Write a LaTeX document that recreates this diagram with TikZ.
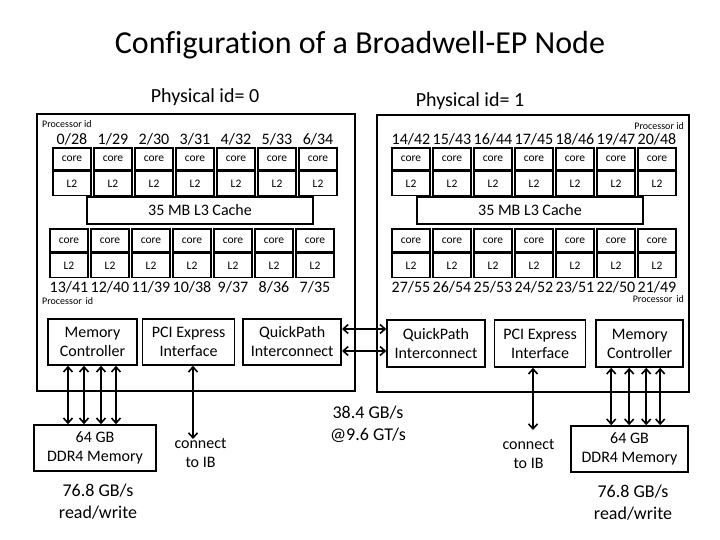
\documentclass[tikz,border=0pt]{standalone}
\usepackage{fontspec}
\setmainfont{Carlito}[Ligatures=NoCommon]
\usetikzlibrary{arrows.meta,positioning}

\newcommand{\sz}[2]{\fontsize{#1}{#2}\selectfont}

\begin{document}
\begin{tikzpicture}[x=1pt,y=-1pt,
	box/.style={rectangle,draw,line width=1.6pt,align=center,inner sep=0pt,font=\sz{16}{19}},
	socket/.style={rectangle,draw,line width=1.8pt,inner sep=0pt},
	corebox/.style={rectangle,draw,line width=1.4pt,minimum width=38pt,inner sep=0pt,font=\sz{11.5}{13}},
	cpuid/.style={inner sep=0pt,font=\sz{16}{19}},
	procid/.style={inner sep=0pt,font=\sz{10}{12}},
	note/.style={align=center,inner sep=0pt,font=\sz{18}{22}},
	links/.style={{Straight Barb[length=5pt,width=9pt]}-{Straight Barb[length=5pt,width=9pt]}, line width=1.6pt}]

	\useasboundingbox (0,0) rectangle (720,540);

	\node[font=\sz{32}{38}] (title) at (360,45) {Configuration of a Broadwell-EP Node};
	\node[font=\sz{20}{24}] (phys0) at (205,97) {Physical id= 0};
	\node[font=\sz{20}{24}] (phys1) at (470,101) {Physical id= 1};

	% sockets
	\node[socket, minimum width=318, minimum height=277] (sock0) at (196,252.5) {};
	\node[socket, minimum width=312, minimum height=277] (sock1) at (533,253.5) {};

	\node[procid, anchor=west] (pid0-top) at (42,124) {Processor id};
	\node[procid, anchor=west] (pid0-bot) at (42,301) {Processor\, id};
	\node[procid, anchor=east] (pid1-top) at (684,126) {Processor id};
	\node[procid, anchor=east] (pid1-bot) at (684,299) {Processor\, id};

	% cores of socket 0
	\foreach \a/\b [count=\i from 0] in {0/28,1/29,2/30,3/31,4/32,5/33,6/34} {
		\node[corebox, minimum height=22] (core0-top\i) at (72+41*\i,159) {core};
		\node[corebox, minimum height=24, below=0pt of core0-top\i] (l2-0-top\i) {L2};
		\node[cpuid] (id0-top\i) at (72+41*\i,139) {\a/\b};
	}
	\foreach \a/\b [count=\i from 0] in {13/41,12/40,11/39,10/38,9/37,8/36,7/35} {
		\node[corebox, minimum height=23] (core0-bot\i) at (69+41*\i,240.5) {core};
		\node[corebox, minimum height=24, below=0pt of core0-bot\i] (l2-0-bot\i) {L2};
		\node[cpuid] (id0-bot\i) at (69+41*\i,287) {\a/\b};
	}
	\node[box, minimum width=226, minimum height=27] (l3-0) at (200,210.5) {35 MB L3 Cache};

	% cores of socket 1
	\foreach \a/\b [count=\i from 0] in {14/42,15/43,16/44,17/45,18/46,19/47,20/48} {
		\node[corebox, minimum height=22] (core1-top\i) at (411+41*\i,159) {core};
		\node[corebox, minimum height=24, below=0pt of core1-top\i] (l2-1-top\i) {L2};
		\node[cpuid] (id1-top\i) at (411+41*\i,139) {\a/\b};
	}
	\foreach \a/\b [count=\i from 0] in {27/55,26/54,25/53,24/52,23/51,22/50,21/49} {
		\node[corebox, minimum height=23] (core1-bot\i) at (411+41*\i,240.5) {core};
		\node[corebox, minimum height=24, below=0pt of core1-bot\i] (l2-1-bot\i) {L2};
		\node[cpuid] (id1-bot\i) at (411+41*\i,287) {\a/\b};
	}
	\node[box, minimum width=226, minimum height=27] (l3-1) at (530,210.5) {35 MB L3 Cache};

	% interfaces
	\node[box, minimum width=89, minimum height=46] (mc0) at (92.5,342) {Memory\\Controller};
	\node[box, minimum width=92, minimum height=46, right=4pt of mc0] (pci0) {PCI Express\\Interface};
	\node[box, minimum width=98, minimum height=46, right=7pt of pci0] (qpi0) {QuickPath\\Interconnect};

	\node[box, minimum width=98, minimum height=47] (qpi1) at (436,343.5) {QuickPath\\Interconnect};
	\node[box, minimum width=91, minimum height=47, right=8pt of qpi1] (pci1) {PCI Express\\Interface};
	\node[box, minimum width=87, minimum height=47, right=9pt of pci1] (mc1) {Memory\\Controller};

	% memory
	\node[box, minimum width=122, minimum height=46] (mem0) at (95,448) {64 GB\\DDR4 Memory};
	\node[box, minimum width=117, minimum height=46] (mem1) at (629.5,449) {64 GB\\DDR4 Memory};

	\foreach \dx in {-24.5,-8.5,8.5,23.5}
		\draw[links] ([xshift=\dx]mc0.south) -- ([xshift=\dx]mc0.south |- mem0.north);
	\foreach \dx in {-28.5,-10.5,6.5,20.5}
		\draw[links] ([xshift=\dx]mc1.south) -- ([xshift=\dx]mc1.south |- mem1.north);

	% QPI links
	\draw[links] ([yshift=13]qpi0.east) -- ([yshift=13]qpi0.east -| qpi1.west);
	\draw[links] ([yshift=-9]qpi0.east) -- ([yshift=-9]qpi0.east -| qpi1.west);

	% PCI to IB
	\node[box, draw=none] (ib0) at (200.5,452.5) {connect\\to IB};
	\node[box, draw=none] (ib1) at (528.5,453.5) {connect\\to IB};
	\coordinate (ib0-top) at (193,439);
	\coordinate (ib1-top) at (533,430);
	\draw[links] (pci0.south -| ib0-top) -- (ib0-top);
	\draw[links] (pci1.south -| ib1-top) -- (ib1-top);

	% bandwidths
	\node[note] (qpi-bw) at (368,424) {38.4 GB/s\\@9.6 GT/s};
	\node[note] (mem0-bw) at (98,501.5) {76.8 GB/s\\read/write};
	\node[note] (mem1-bw) at (633,502.5) {76.8 GB/s\\read/write};

\end{tikzpicture}
\end{document}
